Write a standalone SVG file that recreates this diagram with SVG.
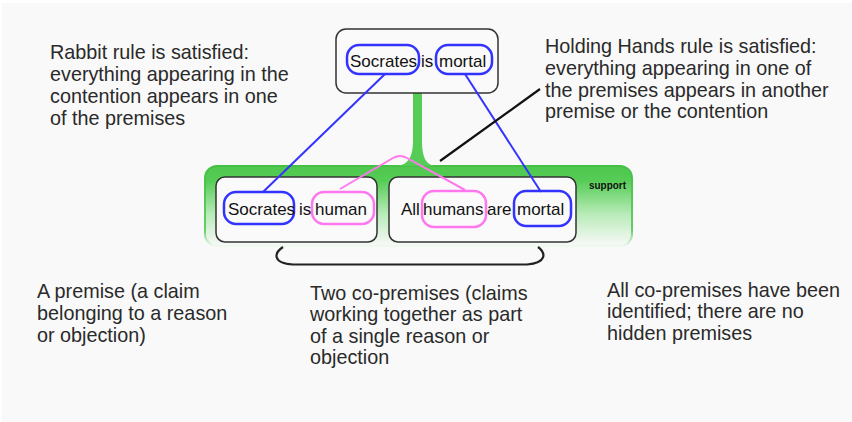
<svg xmlns="http://www.w3.org/2000/svg" width="852" height="422" viewBox="0 0 852 422">
<style>
  .note{font-family:"Liberation Sans",Arial,sans-serif;font-size:19.8px;fill:#2a2a2a}
  .word{font-family:"Liberation Sans",Arial,sans-serif;font-size:17px;fill:#111}
  .box{fill:#fafafa;stroke:#333;stroke-width:1.5}
  .blue{fill:none;stroke:#33f;stroke-width:2.5}
  .pink{fill:none;stroke:#f7e;stroke-width:2.5}
  .bl{fill:none;stroke:#33f;stroke-width:2}
  .pl{fill:none;stroke:#f7e;stroke-width:2;stroke-linejoin:round}
</style>
<defs>
  <linearGradient id="sg" x1="0" y1="0" x2="0" y2="1">
    <stop offset="0" stop-color="#4fc84f"/>
    <stop offset="0.18" stop-color="#55cc55"/>
    <stop offset="0.6" stop-color="#b8ebb8"/>
    <stop offset="1" stop-color="#f9f9f9"/>
  </linearGradient>
  <linearGradient id="ss" x1="0" y1="0" x2="0" y2="1">
    <stop offset="0" stop-color="#44c044"/>
    <stop offset="0.8" stop-color="#66cc66"/>
    <stop offset="1" stop-color="#f0f9f0"/>
  </linearGradient>
</defs>
<rect x="0" y="0" width="852" height="422" fill="#fff"/>
<rect x="2" y="3" width="850" height="419" fill="#f9f9f9"/>

<g id="support">
  <rect x="205" y="166" width="427" height="80" rx="12" fill="url(#sg)" stroke="url(#ss)" stroke-width="2"/>
  <path d="M413,93 L413,140 C413,158 408,165 396,166 L436,166 C426,165 422,158 422,140 L422,93 Z" fill="#55cc55"/>
  <text x="589" y="189" font-family="'Liberation Sans',Arial,sans-serif" font-size="11px" font-weight="bold" textLength="37" lengthAdjust="spacingAndGlyphs" fill="#111">support</text>
</g>

<g id="contention">
  <rect class="box" x="336" y="29" width="162" height="64" rx="10"/>
  <rect class="blue" x="347" y="45" width="72" height="29" rx="12"/>
  <rect class="blue" x="436" y="45" width="56" height="29" rx="12"/>
  <text class="word" x="350" y="67">Socrates</text>
  <text class="word" x="421" y="67">is</text>
  <text class="word" x="439" y="67">mortal</text>
</g>

<g id="premise1">
  <rect class="box" x="216" y="177" width="161" height="65" rx="9"/>
  <rect class="blue" x="224" y="192" width="70" height="32" rx="12"/>
  <rect class="pink" x="312" y="192" width="62" height="32" rx="12"/>
  <text class="word" x="228" y="215">Socrates</text>
  <text class="word" x="299" y="215">is</text>
  <text class="word" x="315" y="215">human</text>
</g>

<g id="premise2">
  <rect class="box" x="389" y="177" width="187" height="65" rx="9"/>
  <rect class="pink" x="422" y="191" width="64" height="36" rx="12"/>
  <rect class="blue" x="514" y="191" width="57" height="35" rx="12"/>
  <text class="word" x="401" y="215">All</text>
  <text class="word" x="423" y="215">humans</text>
  <text class="word" x="487" y="215">are</text>
  <text class="word" x="517" y="215">mortal</text>
</g>

<g id="connectors">
  <line class="bl" x1="385" y1="74" x2="263" y2="192"/>
  <line class="bl" x1="465" y1="74" x2="541" y2="192"/>
  <path class="pl" d="M340,189 L393,158 Q400,154 407,158 L465,190"/>
  <line x1="440" y1="161" x2="540" y2="89" stroke="#111" stroke-width="2.2"/>
  <path d="M283,247 C274,253 272,263 293,264.5 L527,264.5 C547,263 546,253 538,247" fill="none" stroke="#222" stroke-width="2.2"/>
</g>

<g id="notes">
  <text class="note"><tspan x="50" y="59">Rabbit rule is satisfied:</tspan><tspan x="50" y="81">everything appearing in the</tspan><tspan x="50" y="103">contention appears in one</tspan><tspan x="50" y="125">of the premises</tspan></text>
  <text class="note"><tspan x="545" y="53">Holding Hands rule is satisfied:</tspan><tspan x="545" y="75">everything appearing in one of</tspan><tspan x="545" y="97">the premises appears in another</tspan><tspan x="545" y="118">premise or the contention</tspan></text>
  <text class="note"><tspan x="37" y="298">A premise (a claim</tspan><tspan x="37" y="320">belonging to a reason</tspan><tspan x="37" y="342">or objection)</tspan></text>
  <text class="note"><tspan x="310" y="300">Two co-premises (claims</tspan><tspan x="310" y="321">working together as part</tspan><tspan x="310" y="343">of a single reason or</tspan><tspan x="310" y="364">objection</tspan></text>
  <text class="note"><tspan x="607" y="297">All co-premises have been</tspan><tspan x="607" y="318">identified; there are no</tspan><tspan x="607" y="340">hidden premises</tspan></text>
</g>
</svg>
